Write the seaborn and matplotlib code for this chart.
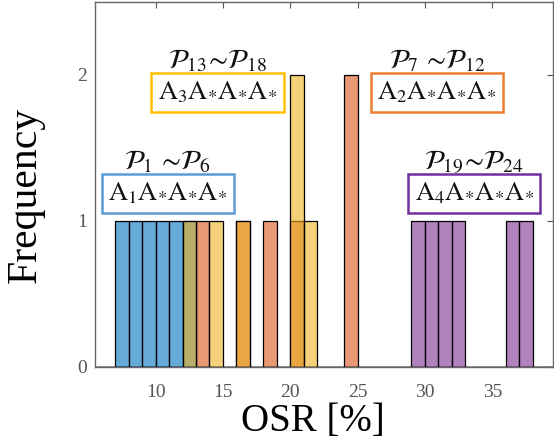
import numpy as np
import seaborn as sns
import matplotlib.pyplot as plt

# OSR values (%) for each group of six
osr_p1_p6 = [7.5, 8.5, 9.5, 10.5, 11.5, 12.5]
osr_p7_p12 = [13.5, 16.5, 18.5, 20.5, 24.5, 24.5]
osr_p13_p18 = [12.5, 14.5, 16.5, 20.5, 20.5, 21.5]
osr_p19_p24 = [29.5, 30.5, 31.5, 32.5, 36.5, 37.5]

group_titles = [r"$\mathcal{P}_1\,\sim\!\mathcal{P}_6$",
                r"$\mathcal{P}_7\,\sim\!\mathcal{P}_{12}$",
                r"$\mathcal{P}_{13}\!\sim\!\mathcal{P}_{18}$",
                r"$\mathcal{P}_{19}\!\sim\!\mathcal{P}_{24}$"]
group_boxes = [r"$\mathrm{A}_{1}\mathrm{A}_{*}\mathrm{A}_{*}\mathrm{A}_{*}$",
               r"$\mathrm{A}_{2}\mathrm{A}_{*}\mathrm{A}_{*}\mathrm{A}_{*}$",
               r"$\mathrm{A}_{3}\mathrm{A}_{*}\mathrm{A}_{*}\mathrm{A}_{*}$",
               r"$\mathrm{A}_{4}\mathrm{A}_{*}\mathrm{A}_{*}\mathrm{A}_{*}$"]

sns.set_style("white")
plt.rcParams['font.family'] = ['Liberation Serif', 'DejaVu Serif']
plt.rcParams['mathtext.fontset'] = 'stix'

bar_colors = [(0, 0.447, 0.741), (0.85, 0.325, 0.098), (0.929, 0.694, 0.125), (0.494, 0.184, 0.556)]
box_colors = ["#5B9BD5", "#ED7D31", "#FFC000", "#7030A0"]
# label placement (data coords)
box_pos = [(10.9, 1.19), (30.9, 1.88), (14.6, 1.88), (33.65, 1.19)]

fig = plt.figure(figsize=(5.54, 4.41), dpi=100)
ax = fig.add_axes([0.1715, 0.168, 0.8265, 0.8275])

edges = np.arange(5, 41, 1)
for vals, c in zip([osr_p1_p6, osr_p7_p12, osr_p13_p18, osr_p19_p24], bar_colors):
    sns.histplot(x=vals, bins=edges, color=c, alpha=0.6, edgecolor="black",
                 linewidth=0.9, ax=ax)

for (x, y), t, b, ec in zip(box_pos, group_titles, group_boxes, box_colors):
    ax.text(x, y, b, fontsize=19, ha="center", va="center", color="#111111",
            bbox=dict(boxstyle="square,pad=0.25", fc="white", ec=ec, lw=1.8))
    ax.text(x, y + 0.215, t, fontsize=20, ha="center", va="center", color="#111111")

ax.set_xlim(5.5, 39.5)
ax.set_ylim(0, 2.5)
ax.set_xticks([10, 15, 20, 25, 30, 35])
ax.set_yticks([0, 1, 2])
ax.tick_params(direction="in", length=4, width=0.8, colors="#555555", labelsize=14,
               top=True, right=True)
ax.tick_params(axis="x", pad=12)
ax.tick_params(axis="y", pad=6)
for s in ax.spines.values():
    s.set_color("#666666")
    s.set_linewidth(1.0)
    s.set_visible(True)

ax.set_xlabel("OSR [%]", fontsize=28, color="black")
ax.set_ylabel("Frequency", fontsize=30, color="black")
ax.xaxis.set_label_coords(0.476, -0.1)
ax.yaxis.set_label_coords(-0.11, 0.47)

fig.savefig("out.png", dpi=100)
